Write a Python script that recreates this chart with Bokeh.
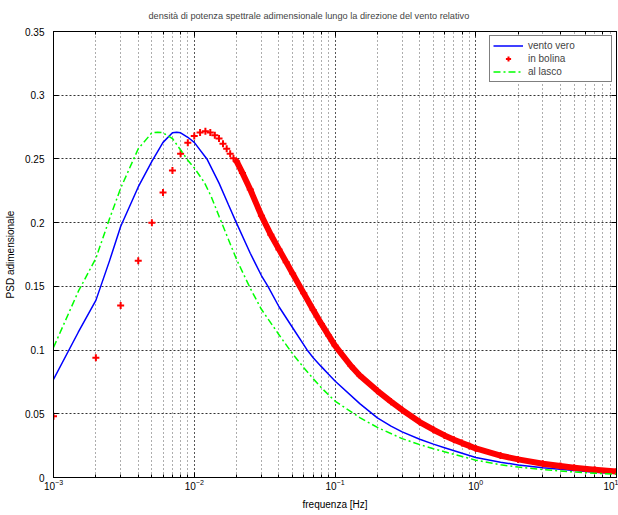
from bokeh.plotting import figure
from bokeh.models import Legend, LegendItem, LogAxis, LinearAxis, FixedTicker, NumeralTickFormatter
from bokeh.embed import file_html
from bokeh.resources import INLINE

TITLE = "densità di potenza spettrale adimensionale lungo la direzione del vento relativo"
X_LABEL = "frequenza [Hz]"
Y_LABEL = "PSD adimensionale"
y_ticks = [0, 0.05, 0.1, 0.15, 0.2, 0.25, 0.3, 0.35]

# vento vero (blue solid)
vero_f = [0.001, 0.0015, 0.002, 0.0025, 0.003, 0.004, 0.005, 0.006, 0.007, 0.0075,
          0.008, 0.009, 0.01, 0.0123, 0.015, 0.0175, 0.0199, 0.025, 0.03, 0.0334, 0.04,
          0.05, 0.063, 0.07, 0.08, 0.09, 0.1, 0.15, 0.2, 0.25, 0.3, 0.4,
          0.5, 0.6, 0.8, 1.0, 1.5, 2.0, 3.0, 5.0, 7.0, 10.0]
vero_psd = [0.077, 0.114, 0.139, 0.170, 0.197, 0.228, 0.248, 0.263, 0.2705, 0.271,
            0.2705, 0.267, 0.263, 0.250, 0.231, 0.214, 0.200, 0.176, 0.1585, 0.150, 0.134,
            0.1175, 0.1005, 0.094, 0.087, 0.081, 0.0757, 0.058, 0.0468, 0.0403, 0.0358, 0.030,
            0.0262, 0.0234, 0.019, 0.0157, 0.012, 0.0099, 0.0076, 0.0054, 0.0042, 0.0032]

# al lasco (green dash-dot)
lasco_f = [0.001, 0.0015, 0.002, 0.0025, 0.003, 0.004, 0.005, 0.0055, 0.006, 0.007,
           0.008, 0.009, 0.01, 0.0118, 0.0132, 0.015, 0.02, 0.025, 0.03, 0.04,
           0.05, 0.06, 0.07, 0.08, 0.09, 0.1, 0.15, 0.2, 0.3, 0.4,
           0.5, 0.6, 0.8, 1.0, 1.5, 2.0, 3.0, 5.0, 7.0, 10.0]
lasco_psd = [0.102, 0.146, 0.172, 0.203, 0.227, 0.258, 0.2705, 0.271, 0.2705, 0.266,
             0.257, 0.249, 0.243, 0.2315, 0.2205, 0.205, 0.171, 0.1485, 0.132, 0.112,
             0.097, 0.0862, 0.0775, 0.0705, 0.0648, 0.060, 0.047, 0.0393, 0.0305, 0.0258,
             0.0226, 0.0202, 0.0165, 0.0136, 0.0100, 0.0082, 0.0062, 0.0043, 0.0034, 0.0026]

# in bolina (red + markers)
bolina_f = [0.001, 0.002, 0.003, 0.004, 0.005, 0.006, 0.007, 0.008, 0.009, 0.010,
            0.011, 0.012, 0.013, 0.014, 0.015, 0.016, 0.017, 0.018, 0.019, 0.020,
            0.022, 0.025, 0.03, 0.035, 0.04, 0.045, 0.05, 0.06, 0.07, 0.08,
            0.09, 0.1, 0.13, 0.15, 0.2, 0.25, 0.3, 0.4, 0.5, 0.6,
            0.7, 0.8, 0.9, 1.0, 1.5, 2.0, 3.0, 4.0, 5.0, 7.0, 10.0]
bolina_psd = [0.048, 0.094, 0.135, 0.170, 0.200, 0.2236, 0.241, 0.254, 0.2626, 0.268,
              0.2707, 0.2718, 0.2707, 0.2686, 0.266, 0.262, 0.258, 0.254, 0.2505, 0.248,
              0.239, 0.226, 0.2055, 0.1905, 0.179, 0.169, 0.160, 0.1445, 0.1315, 0.1205,
              0.1115, 0.1035, 0.0875, 0.080, 0.068, 0.0595, 0.053, 0.0435, 0.0375, 0.033,
              0.0297, 0.027, 0.0248, 0.0228, 0.0172, 0.0142, 0.0108, 0.009, 0.0077, 0.0061, 0.0047]
# from here on the markers (one every 0.001 Hz) overlap into a solid band
band_start = 0.02
band_f = [f for f in bolina_f if f >= band_start]
band_psd = [v for f, v in zip(bolina_f, bolina_psd) if f >= band_start]

FONT = "Liberation Sans"
BLUE, RED, GREEN = "#0000ff", "#ff0000", "#00ff00"

p = figure(width=618, height=515, x_axis_type="log", x_range=(1e-3, 10), y_range=(0, 0.35),
           output_backend="svg", toolbar_location=None, title=TITLE,
           min_border_left=53, min_border_right=2, min_border_top=31, min_border_bottom=38)
p.background_fill_color = "white"
p.border_fill_color = "white"
p.outline_line_color = "black"
p.outline_line_width = 1

p.title.text_font = FONT
p.title.text_font_size = "9.2px"
p.title.text_font_style = "normal"
p.title.align = "left"
p.title.offset = 95
p.title.vertical_align = "top"
p.title.standoff = 17

yt = FixedTicker(ticks=y_ticks)
p.yaxis.ticker = yt
p.ygrid.ticker = yt
p.yaxis.formatter = NumeralTickFormatter(format="0.[00]")

for ax in (p.xaxis[0], p.yaxis[0]):
    ax.axis_line_color = "black"
    ax.major_tick_line_color = "black"
    ax.minor_tick_line_color = "black"
    ax.major_tick_in = 5
    ax.major_tick_out = 0
    ax.minor_tick_in = 3
    ax.minor_tick_out = 0
    ax.major_label_text_font = FONT
    ax.major_label_text_font_size = "10px"
    ax.major_label_text_color = "black"
    ax.axis_label_text_font = FONT
    ax.axis_label_text_font_size = "10px"
    ax.axis_label_text_font_style = "normal"
    ax.axis_label_text_color = "black"
p.yaxis.minor_tick_line_color = None
p.xaxis.axis_label = X_LABEL
p.yaxis.axis_label = Y_LABEL
p.xaxis.major_label_standoff = 1
p.xaxis.axis_label_standoff = 6
p.yaxis.major_label_standoff = 9
p.yaxis.axis_label_standoff = 6

top = LogAxis(major_tick_in=5, major_tick_out=0, minor_tick_in=3, minor_tick_out=0,
              major_label_text_font_size="1px", major_label_text_color=None,
              major_label_standoff=0, axis_line_color="black")
p.add_layout(top, "above")
right = LinearAxis(ticker=yt, major_tick_in=5, major_tick_out=0, minor_tick_line_color=None,
                   major_label_text_font_size="1px", major_label_text_color=None,
                   major_label_standoff=0, axis_line_color="black")
p.add_layout(right, "right")

grid_col = "#333333"
p.xgrid.grid_line_color = grid_col
p.xgrid.grid_line_dash = "1 3"
p.xgrid.minor_grid_line_color = grid_col
p.xgrid.minor_grid_line_dash = "1 3"
p.xgrid.minor_grid_line_alpha = 0.8
p.ygrid.grid_line_color = grid_col
p.ygrid.grid_line_dash = "2 2"

r_vero = p.line(vero_f, vero_psd, line_color=BLUE, line_width=1.5)
p.line(band_f, band_psd, line_color=RED, line_width=6, line_join="round", line_cap="round")
r_bol = p.scatter(bolina_f, bolina_psd, marker="cross", size=7, line_width=2, line_color=RED)
r_lasco = p.line(lasco_f, lasco_psd, line_color=GREEN, line_width=1.5, line_dash="7 3 2 3")

legend = Legend(items=[LegendItem(label="vento vero", renderers=[r_vero]),
                       LegendItem(label="in bolina", renderers=[r_bol]),
                       LegendItem(label="al lasco", renderers=[r_lasco])],
                location="top_right", margin=4, padding=3, spacing=0,
                glyph_width=30, glyph_height=13, label_height=13, label_width=80,
                label_standoff=5, label_text_font=FONT, label_text_font_size="10px",
                border_line_color="black", border_line_width=1,
                background_fill_color="white", background_fill_alpha=1)
p.add_layout(legend)

open("out.html", "w").write(file_html(p, INLINE))
